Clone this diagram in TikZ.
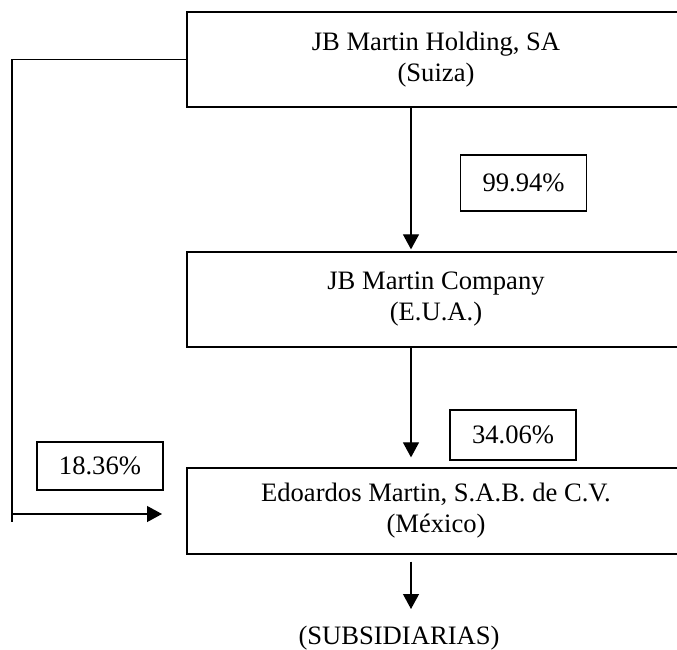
\documentclass[tikz,border=0pt]{standalone}
\usepackage{fontspec}
\setmainfont{Liberation Serif}
\usetikzlibrary{arrows.meta}
\begin{document}
\begin{tikzpicture}[x=1pt,y=-1pt,
  every node/.style={font=\fontsize{26.6}{31}\selectfont},
  entity/.style={draw, line width=1.3pt, minimum width=498pt, inner sep=0pt, align=center},
  pct/.style={draw, line width=1.3pt, inner sep=0pt, minimum width=126pt},
  link/.style={line width=1.2pt},
  arr/.style={link, -{Triangle[length=15pt,width=16pt]}}]
\useasboundingbox (0,0) rectangle (677,650);
\clip (0,0) rectangle (677,650);
\node[entity, minimum height=95pt] (hold) at (436,59.5) {JB Martin Holding, SA\\(Suiza)};
\node[entity, minimum height=95pt] (comp) at (436,299.5) {JB Martin Company\\(E.U.A.)};
\node[entity, minimum height=86pt] (edo) at (436,511) {Edoardos Martin, S.A.B. de C.V.\\(México)};
\node[pct, minimum height=56pt] (p1) at (523.5,183) {99.94\%};
\node[pct, minimum height=50pt] (p2) at (513,435) {34.06\%};
\node[pct, minimum height=48pt] (p3) at (100,466) {18.36\%};
\node[inner sep=0pt] (subs) at (399,638) {(SUBSIDIARIAS)};
\coordinate (ax) at (411,0);
\coordinate (ltop) at (12,59.5);
\coordinate (lbot) at (12,522);
\coordinate (lmid) at (12,514);
\coordinate (lend) at (162,514);
\coordinate (send) at (411,609);
\draw[arr, shorten >=2pt] (hold.south -| ax) -- (comp.north -| ax);
\draw[arr, shorten >=10pt] (comp.south -| ax) -- (edo.north -| ax);
\draw[arr, shorten <=7pt] (edo.south -| ax) -- (send);
\draw[link] (hold.west) -- (ltop) -- (lbot);
\draw[arr] (lmid) -- (lend);
\end{tikzpicture}
\end{document}
